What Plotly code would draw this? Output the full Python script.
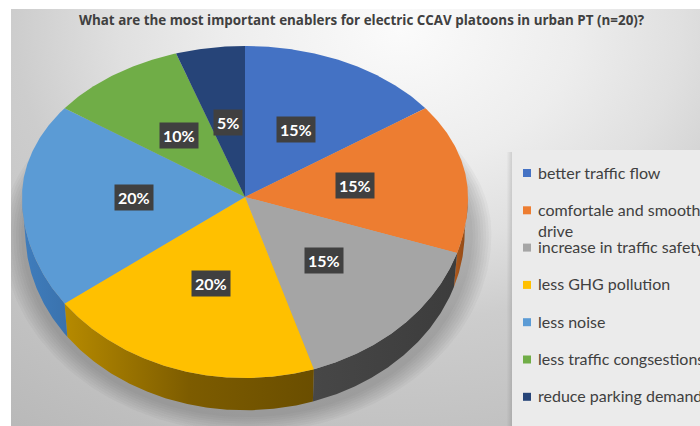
import numpy as np
import plotly.graph_objects as go

# ---- data -------------------------------------------------------------
title = "What are the most important enablers for electric CCAV platoons in urban PT (n=20)?"
categories = [
    "better traffic flow",
    "comfortale and smooth drive",
    "increase in traffic safety",
    "less GHG pollution",
    "less noise",
    "less traffic congsestions",
    "reduce parking demand",
]
legend_labels = [
    "better traffic flow",
    "comfortale and smooth<br>drive",
    "increase in traffic safety",
    "less GHG pollution",
    "less noise",
    "less traffic congsestions",
    "reduce parking demand",
]
shares = [15, 15, 15, 20, 20, 10, 5]

# ---- styling ----------------------------------------------------------
top_colors = ["#4472C4", "#ED7D31", "#A5A5A5", "#FFC000", "#5B9BD5", "#70AD47", "#264478"]
side_scales = [
    [[0, "#2f5597"], [1, "#2f5597"]],
    [[0, "#b05a1e"], [1, "#8a4512"]],
    [[0, "#474747"], [1, "#3c3c3c"]],
    [[0, "#b68a00"], [0.5, "#7d5c00"], [1, "#6a4e00"]],
    [[0, "#3f7dbd"], [1, "#3a72ad"]],
    [[0, "#4f7d32"], [1, "#4f7d32"]],
    [[0, "#1a3055"], [1, "#1a3055"]],
]
FONT = "Lato"
TITLE_FONT = "Open Sans"
TEXT_COLOR = "#404040"

# pie geometry in page pixels (3-D tilted disc)
CX, CY = 245.0, 197.0
RX, RY_TOP, RY_BOT = 223.0, 151.0, 181.0
DEPTH, BOT_SCALE = 35.0, 0.985
LABEL_R = 0.5


def top_xy(theta, f=1.0):
    t = np.radians(theta)
    s = np.sin(t)
    ry = np.where(s > 0, RY_TOP, RY_BOT)
    return CX + f * RX * np.cos(t), CY - f * ry * s


def bottom_xy(theta):
    t = np.radians(theta)
    s = np.sin(t)
    ry = np.where(s > 0, RY_TOP, RY_BOT)
    return CX + BOT_SCALE * RX * np.cos(t), CY + DEPTH - BOT_SCALE * ry * s


def arc(a0, a1):
    n = max(int(abs(a1 - a0) * 2), 8)
    return np.linspace(a0, a1, n)


fig = go.Figure()

# background: radial grey gradient
fig.add_trace(go.Scatter(
    x=[-300, 1100, 1100, -300, -300], y=[-500, -500, 560, 560, -500],
    mode="lines", line=dict(width=0), fill="toself",
    fillgradient=dict(type="radial", colorscale=[
        [0, "#fbfbfb"], [0.25, "#ededed"], [0.4, "#e0e0e0"],
        [0.55, "#cdcdcd"], [1, "#b5b5b5"]]),
    hoverinfo="skip", showlegend=False))

# legend panel with a faint shadow on its left
for k in range(5):
    off = 5 - k
    fig.add_trace(go.Scatter(
        x=[512 - off, 720, 720, 512 - off, 512 - off],
        y=[152, 152, 430, 430, 152],
        mode="lines", line=dict(width=0), fill="toself",
        fillcolor="rgba(0,0,0,0.018)", hoverinfo="skip", showlegend=False))
fig.add_trace(go.Scatter(
    x=[512, 720, 720, 512, 512], y=[150, 150, 430, 430, 150],
    mode="lines", line=dict(width=0), fill="toself", fillcolor="#ebebeb",
    hoverinfo="skip", showlegend=False))

# soft shadow under the disc
th = np.linspace(0, 360, 241)
for k in range(8):
    g = 1.0 + 0.012 * (k + 1)
    t = np.radians(th)
    s = np.sin(t)
    ry = np.where(s > 0, RY_TOP, RY_BOT)
    fig.add_trace(go.Scatter(
        x=CX + 2 + g * RX * np.cos(t), y=CY + DEPTH + 2 - g * ry * s,
        mode="lines", line=dict(width=0), fill="toself",
        fillcolor="rgba(60,60,60,0.045)", hoverinfo="skip", showlegend=False))

# slice angles (clockwise from 12 o'clock)
total = float(sum(shares))
bounds = 90.0 - 360.0 * np.concatenate([[0], np.cumsum(shares)]) / total

# front side walls
for i in range(len(shares)):
    a0, a1 = bounds[i], bounds[i + 1]
    hi, lo = min(a0, 0.0), max(a1, -180.0)
    if hi <= lo:
        continue
    ang = arc(hi, lo)
    tx, ty = top_xy(ang)
    bx, by = bottom_xy(ang[::-1])
    px = np.concatenate([tx, bx, tx[:1]])
    py = np.concatenate([ty, by, ty[:1]])
    fig.add_trace(go.Scatter(
        x=px, y=py, mode="lines", line=dict(width=0), fill="toself",
        fillgradient=dict(type="horizontal", colorscale=side_scales[i]),
        hoverinfo="skip", showlegend=False))

# top faces
for i in range(len(shares)):
    ang = arc(bounds[i], bounds[i + 1])
    ax, ay = top_xy(ang)
    px = np.concatenate([[CX], ax, [CX]])
    py = np.concatenate([[CY], ay, [CY]])
    fig.add_trace(go.Scatter(
        x=px, y=py, mode="lines", line=dict(width=0), fill="toself",
        fillcolor=top_colors[i], name=categories[i],
        hoverinfo="skip", showlegend=False))

# percentage labels
for i, v in enumerate(shares):
    mid = (bounds[i] + bounds[i + 1]) / 2
    lx, ly = top_xy(np.array([mid]), LABEL_R)
    fig.add_annotation(
        x=float(lx[0]), y=float(ly[0]), text=f"{v / total * 100:.0f}%",
        showarrow=False, bgcolor="#404040", borderpad=3,
        font=dict(family=FONT, size=16, color="white", weight="bold"))

# legend
LEG_X, LEG_Y0, LEG_DY = 527, 173, 37.3
leg_y = [LEG_Y0 + LEG_DY * i for i in range(len(categories))]
fig.add_trace(go.Scatter(
    x=[LEG_X] * len(categories), y=leg_y, mode="markers",
    marker=dict(symbol="square", size=8, color=top_colors, line=dict(width=0)),
    hoverinfo="skip", showlegend=False))
for lab, y in zip(legend_labels, leg_y):
    fig.add_annotation(
        x=LEG_X + 10, y=y - 11.5, text=lab, showarrow=False,
        xanchor="left", yanchor="top", align="left", borderpad=0,
        font=dict(family=FONT, size=16, color=TEXT_COLOR))

fig.add_annotation(
    x=362, y=20, text=title, showarrow=False,
    font=dict(family=TITLE_FONT, size=13.4, color=TEXT_COLOR, weight="bold"))

fig.update_layout(
    width=700, height=426,
    margin=dict(l=11, r=0, t=9, b=0),
    paper_bgcolor="white", plot_bgcolor="white",
    xaxis=dict(range=[11, 700], visible=False, fixedrange=True),
    yaxis=dict(range=[426, 9], visible=False, fixedrange=True),
    showlegend=False,
)

fig.write_html("out.html")
